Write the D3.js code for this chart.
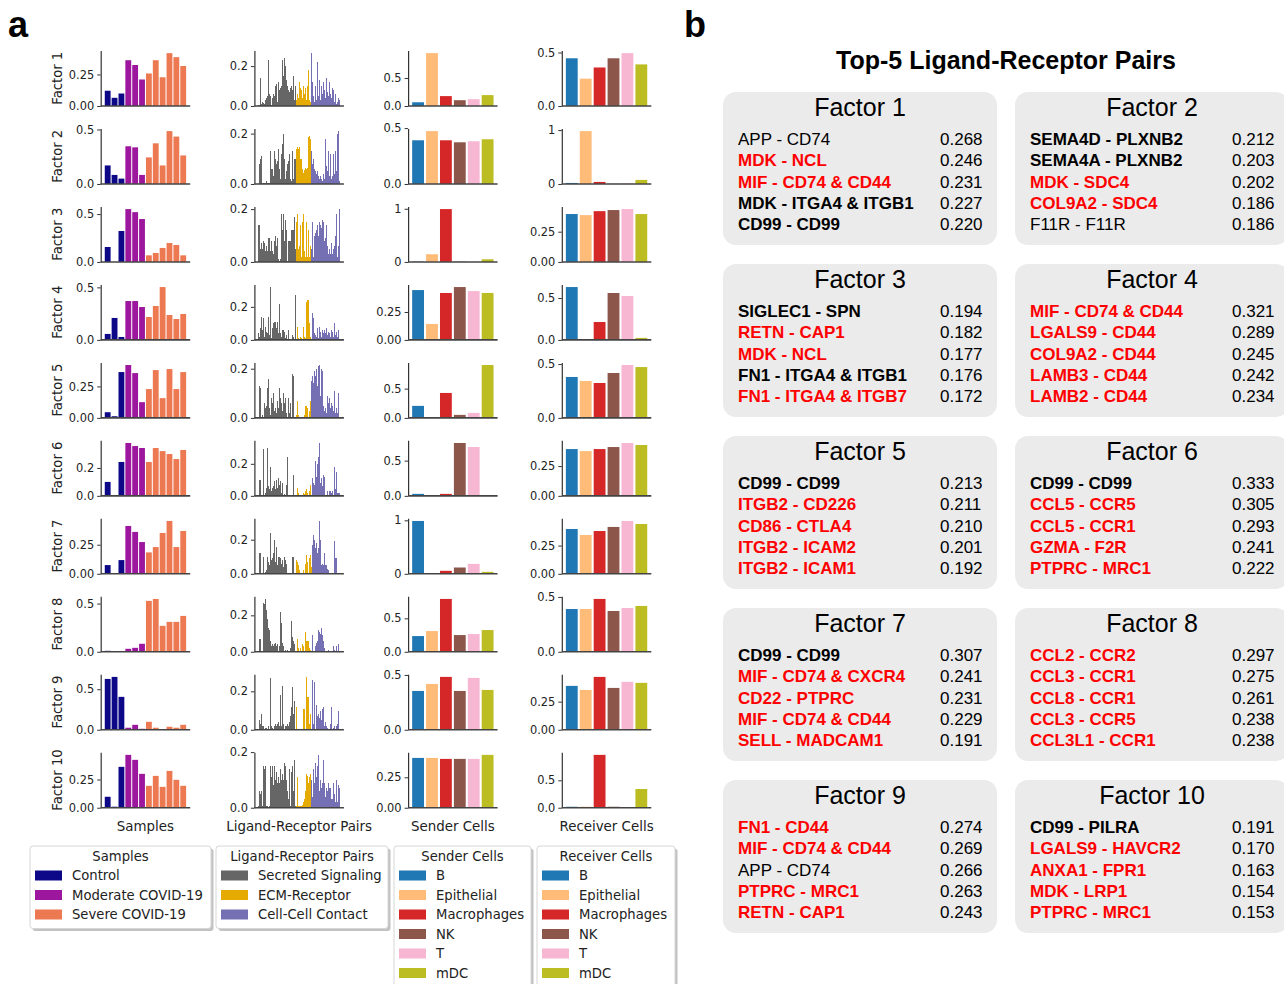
<!DOCTYPE html>
<html><head><meta charset="utf-8">
<script src="https://cdn.jsdelivr.net/npm/d3@7"></script>
<style>body{margin:0;background:#fff} svg{display:block}</style>
</head><body><svg id="chart" width="1284" height="984"></svg>
<script>
// ---------------- DATA ----------------
const factors = ["Factor 1","Factor 2","Factor 3","Factor 4","Factor 5","Factor 6","Factor 7","Factor 8","Factor 9","Factor 10"];
const sampleGroups = ["Control","Moderate COVID-19","Severe COVID-19"];
const sampleGroupOf = [0,0,0,1,1,1,2,2,2,2,2,2];
const sampleColors = ["#0d0887","#9c179e","#ed7953"];
const sampleValues = [
  [0.121,0.065,0.099,0.363,0.325,0.21,0.258,0.363,0.228,0.419,0.387,0.317],
  [0.17,0.083,0.049,0.346,0.336,0.083,0.244,0.373,0.17,0.485,0.435,0.262],
  [0.156,0,0.323,0.552,0.52,0.448,0.069,0.094,0.146,0.198,0.177,0.069],
  [0.057,0.209,0.028,0.37,0.37,0.313,0.218,0.323,0.503,0.237,0.199,0.247],
  [0.045,0.013,0.364,0.42,0.356,0.125,0.229,0.38,0.157,0.388,0.229,0.364],
  [0.1,0,0.243,0.379,0.357,0.343,0.243,0.343,0.321,0.3,0.264,0.329],
  [0.075,0.005,0.118,0.411,0.36,0.273,0.184,0.23,0.351,0.454,0.23,0.368],
  [0.01,0,0.003,0.031,0.041,0.083,0.528,0.548,0.269,0.31,0.31,0.372],
  [0.627,0.652,0.406,0.025,0.061,0.012,0.098,0.025,0.002,0.037,0.025,0.061],
  [0.097,0.009,0.362,0.468,0.424,0.3,0.194,0.282,0.185,0.326,0.247,0.194]
];
const sampleTicks = [["0.00","0.25"],["0.0","0.5"],["0.0","0.5"],["0.0","0.5"],["0.00","0.25"],["0.0","0.2"],["0.00","0.25"],["0.0","0.5"],["0.0","0.5"],["0.00","0.25"]];

const lrTypes = ["Secreted Signaling","ECM-Receptor","Cell-Cell Contact"];
const lrColors = ["#666666","#e6ab02","#7570b3"];
const lrSecreted = [
  [0.005,0.003,0.14,0.01,0.02,0.015,0.01,0.03,0.04,0.05,0.23,0.06,0.05,0.005,0.04,0.06,0.05,0.1,0.11,0.02,0.12,0.08,0.09,0.1,0.23,0.15,0.24,0.2,0.13,0.1,0.08,0.07,0.09,0.1,0.08,0.15,0.03,0.1],
  [0.0,0.08,0.1,0.11,0.002,0.002,0.003,0.002,0.01,0.004,0.003,0.005,0.13,0.06,0.06,0.03,0.13,0.1,0.08,0.09,0.14,0.06,0.02,0.12,0.16,0.2,0.1,0.02,0.05,0.08,0.09,0.12,0.02,0.01,0.13,0.02,0.1,0.1],
  [0.14,0.14,0.05,0.07,0.05,0.08,0.07,0.04,0.06,0.04,0.09,0.09,0.04,0.08,0.04,0.03,0.08,0.1,0.06,0.09,0.01,0.005,0.01,0.18,0.12,0.18,0.08,0.16,0.12,0.005,0.08,0.08,0.08,0.12,0.12,0.12,0.17,0.05],
  [0.04,0.02,0.07,0.14,0.06,0.13,0.02,0.08,0.05,0.04,0.14,0.03,0.32,0.01,0.07,0.1,0.11,0.11,0.07,0.11,0.04,0.22,0.04,0.02,0.06,0.06,0.05,0.01,0.03,0.005,0.06,0.005,0.003,0.005,0.03,0.02,0.005,0.27],
  [0.005,0.13,0.12,0.005,0.01,0.005,0.06,0.04,0.05,0.12,0.16,0.04,0.01,0.08,0.06,0.1,0.03,0.04,0.02,0.07,0.04,0.12,0.08,0.06,0.03,0.1,0.06,0.08,0.02,0.005,0.08,0.02,0.06,0.005,0.18,0.17,0.005,0.003],
  [0.005,0.1,0.1,0.005,0.005,0.29,0.005,0.02,0.05,0.3,0.06,0.04,0.18,0.03,0.05,0.06,0.09,0.04,0.1,0.05,0.11,0.07,0.09,0.02,0.08,0.005,0.01,0.005,0.07,0.24,0.005,0.005,0.003,0.005,0.003,0.13,0.005,0.003],
  [0.005,0.12,0.12,0.005,0.005,0.1,0.003,0.01,0.02,0.1,0.07,0.05,0.24,0.08,0.09,0.12,0.2,0.07,0.16,0.05,0.1,0.1,0.09,0.06,0.08,0.04,0.1,0.08,0.06,0.005,0.003,0.003,0.003,0.005,0.1,0.1,0.005,0.003],
  [0.005,0.07,0.07,0.005,0.005,0.27,0.26,0.29,0.23,0.18,0.13,0.12,0.06,0.03,0.04,0.03,0.04,0.05,0.03,0.04,0.005,0.03,0.22,0.16,0.05,0.03,0.005,0.01,0.005,0.01,0.005,0.005,0.02,0.17,0.08,0.06,0.04,0.005],
  [0.005,0.05,0.03,0.08,0.02,0.02,0.005,0.01,0.01,0.005,0.02,0.005,0.27,0.02,0.01,0.005,0.02,0.03,0.02,0.03,0.04,0.02,0.18,0.02,0.23,0.03,0.005,0.02,0.02,0.03,0.02,0.04,0.07,0.12,0.22,0.08,0.15,0.005],
  [0.005,0.06,0.05,0.06,0.005,0.15,0.14,0.15,0.005,0.005,0.003,0.005,0.15,0.11,0.15,0.08,0.15,0.1,0.13,0.09,0.11,0.09,0.14,0.1,0.12,0.1,0.16,0.15,0.1,0.06,0.03,0.14,0.005,0.13,0.15,0.06,0.17,0.005]
];
const lrECM = [
  [0.03,0.06,0.04,0.12,0.09,0.08,0.04,0.1,0.06,0.09,0.03,0.1,0.18,0.03,0.02,0.08],
  [0.14,0.145,0.14,0.145,0.1,0.1,0.06,0.045,0.055,0.065,0.06,0.065,0.185,0.19,0.18,0.09],
  [0.15,0.18,0.05,0.06,0.14,0.02,0.15,0.18,0.04,0.02,0.15,0.02,0.12,0.02,0.06,0.02],
  [0.005,0.08,0.01,0.005,0.02,0.01,0.005,0.08,0.02,0.01,0.23,0.24,0.24,0.1,0.02,0.005],
  [0.01,0.07,0.01,0.005,0.005,0.003,0.003,0.003,0.01,0.05,0.05,0.04,0.005,0.03,0.07,0.005],
  [0.005,0.05,0.02,0.005,0.003,0.003,0.005,0.02,0.01,0.03,0.04,0.02,0.005,0.03,0.07,0.005],
  [0.08,0.07,0.05,0.02,0.005,0.005,0.005,0.02,0.005,0.06,0.11,0.07,0.005,0.09,0.11,0.04],
  [0.005,0.07,0.02,0.005,0.02,0.005,0.04,0.03,0.005,0.11,0.06,0.06,0.06,0.02,0.01,0.005],
  [0.12,0.005,0.005,0.005,0.005,0.005,0.005,0.11,0.11,0.005,0.275,0.17,0.17,0.03,0.08,0.005],
  [0.005,0.11,0.005,0.005,0.005,0.005,0.01,0.02,0.03,0.06,0.12,0.115,0.09,0.11,0.12,0.08]
];
const lrContact = [
  [0.265,0.12,0.05,0.02,0.1,0.03,0.22,0.05,0.13,0.03,0.1,0.06,0.12,0.08,0.04,0.14,0.07,0.05,0.12,0.06,0.04,0.09,0.08,0.02,0.06,0.01,0.02,0.04,0.03],
  [0.13,0.08,0.1,0.06,0.05,0.04,0.05,0.03,0.02,0.03,0.02,0.01,0.04,0.02,0.18,0.07,0.05,0.13,0.03,0.12,0.02,0.03,0.12,0.04,0.13,0.05,0.2,0.21,0.01],
  [0.05,0.15,0.02,0.1,0.11,0.12,0.14,0.1,0.15,0.14,0.13,0.16,0.15,0.08,0.09,0.14,0.06,0.03,0.05,0.03,0.07,0.03,0.05,0.06,0.1,0.18,0.02,0.06,0.2],
  [0.005,0.16,0.13,0.04,0.03,0.02,0.07,0.01,0.08,0.05,0.02,0.06,0.04,0.06,0.04,0.07,0.03,0.05,0.04,0.02,0.06,0.05,0.02,0.1,0.03,0.05,0.02,0.06,0.005],
  [0.15,0.17,0.14,0.19,0.17,0.2,0.13,0.21,0.215,0.09,0.2,0.19,0.05,0.03,0.04,0.02,0.09,0.06,0.08,0.04,0.06,0.05,0.03,0.11,0.02,0.04,0.02,0.1,0.005],
  [0.005,0.11,0.08,0.07,0.22,0.12,0.2,0.24,0.33,0.08,0.11,0.06,0.13,0.12,0.005,0.005,0.03,0.005,0.03,0.03,0.02,0.03,0.005,0.18,0.04,0.15,0.02,0.02,0.02],
  [0.005,0.17,0.23,0.2,0.15,0.18,0.12,0.15,0.31,0.2,0.05,0.06,0.05,0.12,0.05,0.05,0.03,0.02,0.005,0.005,0.005,0.005,0.005,0.19,0.09,0.09,0.005,0.005,0.005],
  [0.005,0.09,0.005,0.005,0.03,0.05,0.06,0.12,0.11,0.1,0.13,0.09,0.06,0.02,0.005,0.005,0.005,0.01,0.005,0.005,0.005,0.005,0.03,0.01,0.005,0.03,0.005,0.04,0.005],
  [0.005,0.26,0.03,0.25,0.005,0.13,0.07,0.08,0.06,0.1,0.05,0.11,0.12,0.02,0.04,0.02,0.01,0.005,0.005,0.03,0.12,0.005,0.01,0.02,0.005,0.02,0.03,0.1,0.005],
  [0.1,0.04,0.14,0.09,0.16,0.11,0.15,0.19,0.06,0.1,0.07,0.09,0.17,0.09,0.04,0.07,0.06,0.09,0.07,0.07,0.03,0.03,0.09,0.05,0.02,0.1,0.02,0.08,0.07]
];
const lrTicks = ["0.0","0.2"];

const cellTypes = ["B","Epithelial","Macrophages","NK","T","mDC"];
const cellColors = ["#1f77b4","#ffbb78","#d62728","#8c564b","#f7b6d2","#bcbd22"];
const senderValues = [
  [0.067,0.945,0.177,0.104,0.122,0.195],
  [0.391,0.473,0.391,0.373,0.382,0.4],
  [0.005,0.145,0.994,0.005,0,0.05],
  [0.446,0.143,0.42,0.473,0.437,0.42],
  [0.205,0.002,0.426,0.051,0.085,0.903],
  [0.028,0.003,0.028,0.75,0.693,0.01],
  [0.988,0.003,0.056,0.118,0.186,0.037],
  [0.235,0.31,0.79,0.25,0.265,0.325],
  [0.354,0.418,0.482,0.354,0.473,0.363],
  [0.409,0.409,0.401,0.401,0.401,0.434]
];
const senderTicks = [["0.0","0.5"],["0.0","0.5"],["0","1"],["0.00","0.25"],["0.0","0.5"],["0.0","0.5"],["0","1"],["0.0","0.5"],["0.0","0.5"],["0.00","0.25"]];
const receiverValues = [
  [0.446,0.255,0.36,0.446,0.494,0.389],
  [0.019,0.981,0.038,0.003,0.01,0.075],
  [0.396,0.387,0.42,0.429,0.437,0.396],
  [0.631,0.008,0.214,0.56,0.524,0.024],
  [0.38,0.343,0.324,0.417,0.491,0.472],
  [0.393,0.376,0.393,0.41,0.444,0.427],
  [0.397,0.344,0.379,0.415,0.468,0.441],
  [0.39,0.39,0.482,0.372,0.399,0.418],
  [0.39,0.354,0.47,0.372,0.426,0.417],
  [0.018,0.018,0.963,0.018,0.003,0.341]
];
const receiverTicks = [["0.0","0.5"],["0","1"],["0.00","0.25"],["0.0","0.5"],["0.0","0.5"],["0.00","0.25"],["0.00","0.25"],["0.0","0.5"],["0.00","0.25"],["0.0","0.5"]];

const columnTitles = ["Samples","Ligand-Receptor Pairs","Sender Cells","Receiver Cells"];

// Panel b
const panelTitle = "Top-5 Ligand-Receptor Pairs";
const topPairs = [
  ["APP - CD74","MDK - NCL","MIF - CD74 & CD44","MDK - ITGA4 & ITGB1","CD99 - CD99"],
  ["SEMA4D - PLXNB2","SEMA4A - PLXNB2","MDK - SDC4","COL9A2 - SDC4","F11R - F11R"],
  ["SIGLEC1 - SPN","RETN - CAP1","MDK - NCL","FN1 - ITGA4 & ITGB1","FN1 - ITGA4 & ITGB7"],
  ["MIF - CD74 & CD44","LGALS9 - CD44","COL9A2 - CD44","LAMB3 - CD44","LAMB2 - CD44"],
  ["CD99 - CD99","ITGB2 - CD226","CD86 - CTLA4","ITGB2 - ICAM2","ITGB2 - ICAM1"],
  ["CD99 - CD99","CCL5 - CCR5","CCL5 - CCR1","GZMA - F2R","PTPRC - MRC1"],
  ["CD99 - CD99","MIF - CD74 & CXCR4","CD22 - PTPRC","MIF - CD74 & CD44","SELL - MADCAM1"],
  ["CCL2 - CCR2","CCL3 - CCR1","CCL8 - CCR1","CCL3 - CCR5","CCL3L1 - CCR1"],
  ["FN1 - CD44","MIF - CD74 & CD44","APP - CD74","PTPRC - MRC1","RETN - CAP1"],
  ["CD99 - PILRA","LGALS9 - HAVCR2","ANXA1 - FPR1","MDK - LRP1","PTPRC - MRC1"]
];
const topScores = [
  [0.268,0.246,0.231,0.227,0.220],
  [0.212,0.203,0.202,0.186,0.186],
  [0.194,0.182,0.177,0.176,0.172],
  [0.321,0.289,0.245,0.242,0.234],
  [0.213,0.211,0.210,0.201,0.192],
  [0.333,0.305,0.293,0.241,0.222],
  [0.307,0.241,0.231,0.229,0.191],
  [0.297,0.275,0.261,0.238,0.238],
  [0.274,0.269,0.266,0.263,0.243],
  [0.191,0.170,0.163,0.154,0.153]
];
// n = normal black, b = bold black, r = bold red
const topStyles = [
  ["n","r","r","b","b"],
  ["b","b","r","r","n"],
  ["b","r","r","b","r"],
  ["r","r","r","r","r"],
  ["b","r","r","r","r"],
  ["b","r","r","r","r"],
  ["b","r","r","r","r"],
  ["r","r","r","r","r"],
  ["r","r","n","r","r"],
  ["b","r","r","r","r"]
];

// ---------------- DRAW ----------------
const svg = d3.select("#chart");
svg.append("rect").attr("width",1284).attr("height",984).attr("fill","#fff");
const FA = "DejaVu Sans, sans-serif";
const FB = "Liberation Sans, Arial, Helvetica, sans-serif";

const PW = 89.5, PH = 55.5, COL0 = 100.7, COLSTEP = 153.7, ROW0 = 106, ROWSTEP = 77.97;
const BARW = 0.85;

function drawPanel(c, r, values, colorOf, ticks, crisp) {
  const x0 = COL0 + c*COLSTEP, y0 = ROW0 + r*ROWSTEP;
  const n = values.length;
  const m = 0.05*(n-1+BARW);
  const x = d3.scaleLinear().domain([-BARW/2 - m, n-1+BARW/2+m]).range([x0, x0+PW]);
  const y = d3.scaleLinear().domain([0, d3.max(values)*1.05]).range([y0, y0-PH]);
  const g = svg.append("g");
  g.append("g").attr("shape-rendering", crisp ? "crispEdges" : "auto")
    .selectAll("rect").data(values).join("rect")
    .attr("x",(d,i)=>x(i-BARW/2)).attr("width", crisp ? 1 : x(BARW)-x(0))
    .attr("y", d=>y(d)).attr("height", d=>y0-y(d))
    .attr("fill",(d,i)=>colorOf(i));
  const axis = d3.axisLeft(y).tickValues(ticks.map(Number))
    .tickFormat((d,i)=>ticks[i]).tickSize(3.5).tickSizeOuter(0).tickPadding(3);
  const ag = g.append("g").attr("transform",`translate(${x0},0)`).call(axis);
  ag.select(".domain").attr("stroke","#333").attr("stroke-width",1.2);
  ag.selectAll(".tick line").attr("stroke","#333").attr("stroke-width",1);
  ag.selectAll(".tick text").attr("font-family",FA).attr("font-size",11.4).attr("fill","#222");
  g.append("line").attr("x1",x0).attr("x2",x0+PW).attr("y1",y0).attr("y2",y0)
    .attr("stroke","#444").attr("stroke-width",1.6);
}

factors.forEach((f, r) => {
  drawPanel(0, r, sampleValues[r], i => sampleColors[sampleGroupOf[i]], sampleTicks[r]);
  const lrVals = lrSecreted[r].concat(lrECM[r], lrContact[r]);
  const nS = lrSecreted[r].length, nE = lrECM[r].length;
  drawPanel(1, r, lrVals, i => lrColors[i < nS ? 0 : (i < nS+nE ? 1 : 2)], lrTicks, true);
  drawPanel(2, r, senderValues[r], i => cellColors[i], senderTicks[r]);
  drawPanel(3, r, receiverValues[r], i => cellColors[i], receiverTicks[r]);
  const cy = ROW0 + r*ROWSTEP - PH/2;
  svg.append("text").attr("transform",`translate(57,${cy}) rotate(-90)`)
    .attr("text-anchor","middle").attr("dy","0.35em")
    .attr("font-family",FA).attr("font-size",13.2).attr("fill","#222").text(f);
});

columnTitles.forEach((t,c) => {
  svg.append("text").attr("x", COL0 + c*COLSTEP + PW/2).attr("y", ROW0 + 9*ROWSTEP + 23)
    .attr("text-anchor","middle").attr("font-family",FA).attr("font-size",13.4).attr("fill","#222").text(t);
});

// legends
const legends = [
  {title: columnTitles[0], labels: sampleGroups, colors: sampleColors, x: 30, w: 181},
  {title: columnTitles[1], labels: lrTypes, colors: lrColors, x: 216, w: 172},
  {title: columnTitles[2], labels: cellTypes, colors: cellColors, x: 394, w: 137},
  {title: columnTitles[3], labels: cellTypes, colors: cellColors, x: 537, w: 138}
];
legends.forEach(L => {
  const top = 846, rowH = 19.5;
  const h = 30 + L.labels.length*rowH - 6;
  const g = svg.append("g");
  g.append("rect").attr("x",L.x+2.5).attr("y",top+2.5).attr("width",L.w).attr("height",h)
    .attr("rx",3).attr("fill","#9a9a9a").attr("opacity",0.6);
  g.append("rect").attr("x",L.x).attr("y",top).attr("width",L.w).attr("height",h)
    .attr("rx",3).attr("fill","#fff").attr("stroke","#d6d6d6").attr("stroke-width",1);
  g.append("text").attr("x",L.x + L.w/2).attr("y",top+15).attr("text-anchor","middle")
    .attr("font-family",FA).attr("font-size",13.2).attr("fill","#222").text(L.title);
  L.labels.forEach((lab,k) => {
    const cy = top + 29.5 + k*rowH;
    g.append("rect").attr("x",L.x+5).attr("y",cy-5).attr("width",27).attr("height",10).attr("fill",L.colors[k]);
    g.append("text").attr("x",L.x+42).attr("y",cy+4.6).attr("font-family",FA).attr("font-size",13.2)
      .attr("fill","#222").text(lab);
  });
});

// panel letters
svg.append("text").attr("x",8).attr("y",37).attr("font-family",FB).attr("font-weight","bold")
  .attr("font-size",36).attr("fill","#000").text("a");
svg.append("text").attr("x",684).attr("y",37).attr("font-family",FB).attr("font-weight","bold")
  .attr("font-size",36).attr("fill","#000").text("b");

// panel b
svg.append("text").attr("x",1006).attr("y",69).attr("text-anchor","middle").attr("font-family",FB)
  .attr("font-weight","bold").attr("font-size",25).attr("fill","#000").text(panelTitle);
const BX0 = 723, BY0 = 92, BXS = 292, BYS = 172, BW = 274, BH = 153;
factors.forEach((f, i) => {
  const col = i % 2, row = Math.floor(i/2);
  const bx = BX0 + col*BXS, by = BY0 + row*BYS;
  const g = svg.append("g");
  g.append("rect").attr("x",bx).attr("y",by).attr("width",BW).attr("height",BH).attr("rx",13)
    .attr("fill","#ebebeb");
  g.append("text").attr("x",bx+BW/2).attr("y",by+24).attr("text-anchor","middle")
    .attr("font-family",FB).attr("font-size",25).attr("fill","#000").text(f);
  topPairs[i].forEach((p,k) => {
    const st = topStyles[i][k];
    const yy = by + 53 + k*21.3;
    g.append("text").attr("x",bx+15).attr("y",yy).attr("font-family",FB).attr("font-size",17)
      .attr("font-weight", st === "n" ? "normal" : "bold")
      .attr("fill", st === "r" ? "#ff0000" : "#000").text(p);
    g.append("text").attr("x",bx+217).attr("y",yy).attr("font-family",FB).attr("font-size",17)
      .attr("fill","#000").text(d3.format(".3f")(topScores[i][k]));
  });
});
</script></body></html>
